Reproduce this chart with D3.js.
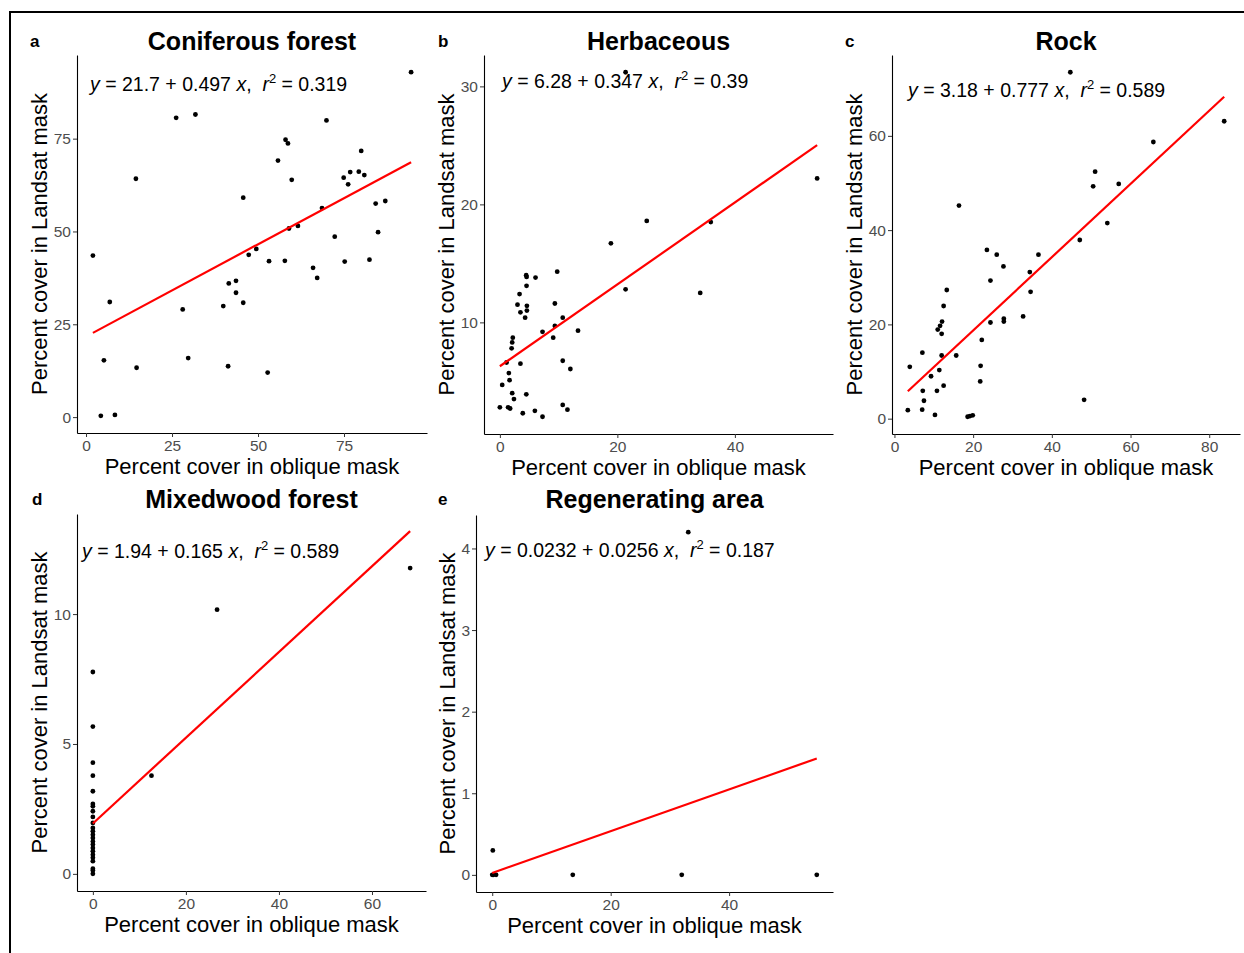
<html>
  <head>
    <meta charset="utf-8">
    <style>
body { margin: 0; background: #fff; }
svg { font-family: "Liberation Sans", Arial, sans-serif; }
.tick text { fill: #4d4d4d; font-size: 15.5px; }
.tick line { stroke: #333; }
.domain { stroke: #000; stroke-width: 1.1; }
.title { font-weight: bold; font-size: 25px; text-anchor: middle; }
.letter { font-weight: bold; font-size: 17px; }
.axtitle { font-size: 22px; text-anchor: middle; }
.eq { font-size: 19.5px; white-space: pre; }
    </style>
  </head>
  <body>
    <svg width="1244" height="953"></svg>
    <script src="https://d3js.org/d3.v7.min.js"></script>
    <script>

var titles = ["Coniferous forest", "Herbaceous", "Rock", "Mixedwood forest", "Regenerating area"];
var letters = ["a", "b", "c", "d", "e"];

// a: coniferous forest
var conifX = [94.5, 26.2, 31.8, 69.9, 58.0, 58.7, 80.0, 55.8, 14.5, 59.8, 74.9, 76.8, 79.3, 80.9, 76.2,
  45.7, 84.2, 87.0, 68.6, 59.0, 61.6, 84.9, 72.3, 2.0, 47.3, 49.5, 53.2, 57.8, 75.2, 82.4, 66.0, 67.2,
  41.5, 43.6, 43.6, 6.9, 45.7, 39.9, 28.1, 5.2, 29.7, 14.7, 41.3, 52.8, 4.3, 8.4];
var conifY = [92.9, 80.6, 81.5, 79.9, 74.7, 73.7, 71.7, 69.1, 64.2, 63.9, 64.5, 66.0, 66.1, 65.2, 62.7,
  59.1, 57.5, 58.2, 56.3, 50.8, 51.5, 49.8, 48.6, 43.5, 43.7, 45.3, 42.0, 42.1, 41.9, 42.4, 40.2, 37.5,
  36.0, 36.7, 33.5, 31.0, 30.8, 29.9, 29.0, 15.3, 15.9, 13.3, 13.7, 12.0, 0.35, 0.6];

// b: herbaceous
var herbX = [21.4, 54.0, 25.0, 35.9, 18.9, 21.4, 34.1, 9.76, 4.48, 4.55, 6.07, 4.54, 3.35, 3.0, 4.6,
  4.6, 3.5, 4.3, 9.36, 10.7, 9.36, 7.26, 13.3, 9.08, 2.2, 2.1, 2.0, 1.14, 3.5, 10.7, 12.0, 1.53, 1.65,
  0.4, 2.1, 2.4, 4.5, 0.0, 1.4, 1.75, 3.9, 5.96, 7.26, 10.7, 11.5];
var herbY = [31.2, 22.2, 18.6, 18.5, 16.7, 12.8, 12.5, 14.3, 14.0, 13.85, 13.8, 13.1, 12.4, 11.5, 11.4,
  11.0, 10.85, 10.4, 11.6, 10.4, 9.7, 9.2, 9.3, 8.7, 8.7, 8.3, 7.8, 6.6, 6.5, 6.75, 6.05, 5.7, 5.1,
  4.7, 4.0, 3.5, 3.9, 2.8, 2.8, 2.7, 2.3, 2.5, 2.0, 3.0, 2.6];

// c: rock
var rockX = [44.7, 83.8, 65.8, 51.0, 50.5, 57.0, 16.4, 54.1, 47.1, 23.5, 26.0, 36.6, 27.7, 34.4, 24.4,
  34.6, 13.3, 12.5, 12.1, 11.6, 11.0, 12.0, 24.4, 27.8, 27.8, 32.7, 22.2, 15.7, 12.0, 7.1, 3.9, 21.9,
  11.4, 9.3, 21.8, 12.5, 10.8, 7.2, 7.5, 48.2, 3.4, 7.05, 10.3, 18.6, 19.2, 19.9];
var rockY = [73.5, 63.1, 58.7, 52.4, 49.3, 49.8, 45.2, 41.5, 37.9, 35.8, 34.8, 34.8, 32.3, 31.1, 29.3,
  26.9, 27.3, 23.9, 20.6, 19.7, 18.9, 18.0, 20.4, 21.2, 20.6, 21.7, 16.7, 13.4, 13.4, 14.0, 11.0, 11.2,
  10.3, 9.0, 7.9, 7.0, 5.9, 5.9, 3.8, 4.0, 1.8, 1.9, 0.8, 0.4, 0.55, 0.7];

// d: mixedwood forest
var mixX = [68.2, 26.7, 12.6, 0, 0, 0, 0, 0, 0, 0, 0, 0, 0, 0, 0, 0, 0, 0, 0, 0, 0, 0, 0, 0, 0, 0, 0];
var mixY = [11.77, 10.17, 3.78, 7.77, 5.67, 4.28, 3.78, 3.18, 2.69, 2.6, 2.41, 2.19, 1.96, 1.77, 1.64,
  1.51, 1.38, 1.25, 1.13, 1.0, 0.87, 0.74, 0.62, 0.49, 0.2, 0.13, 0.0];

// e: regenerating area
var regenX = [33.1, 0.1, 0.0, 0.2, 0.65, 13.6, 32.0, 54.8];
var regenY = [4.2, 0.3, 0.0, 0.0, 0.0, 0.0, 0.0, 0.0];

var intercepts = [21.7, 6.28, 3.18, 1.94, 0.0232];
var slopes = [0.497, 0.347, 0.777, 0.165, 0.0256];
var r2s = ["0.319", "0.39", "0.589", "0.589", "0.187"];

var xTicks = [[0, 25, 50, 75], [0, 20, 40], [0, 20, 40, 60, 80], [0, 20, 40, 60], [0, 20, 40]];
var yTicks = [[0, 25, 50, 75], [10, 20, 30], [0, 20, 40, 60], [0, 5, 10], [0, 1, 2, 3, 4]];

var xs = [conifX, herbX, rockX, mixX, regenX];
var ys = [conifY, herbY, rockY, mixY, regenY];

// plot-area boxes and label placement
var layout = [
  {left: 77,  right: 427,  top: 55,  bottom: 433, titleY: 50,  letterX: 30,  eqDx: 13, eqDy: 36},
  {left: 484, right: 833,  top: 55,  bottom: 434, titleY: 50,  letterX: 438, eqDx: 18, eqDy: 33},
  {left: 892, right: 1240, top: 55,  bottom: 434, titleY: 50,  letterX: 845, eqDx: 16, eqDy: 42},
  {left: 77,  right: 426,  top: 514, bottom: 891, titleY: 508, letterX: 32,  eqDx: 5,  eqDy: 44},
  {left: 476, right: 833,  top: 515, bottom: 892, titleY: 508, letterX: 438, eqDx: 9,  eqDy: 42}
];

var svg = d3.select("svg");

// outer frame (top and left edges)
svg.append("path")
  .attr("d", "M10,953 V12 H1244")
  .attr("fill", "none")
  .attr("stroke", "#000")
  .attr("stroke-width", 2);

function expand(ext) {
  var pad = (ext[1] - ext[0]) * 0.05;
  return [ext[0] - pad, ext[1] + pad];
}

var fmt = d3.format("~g");

layout.forEach(function(L, i) {
  var px = xs[i], py = ys[i];
  var pts = px.map(function(v, k) { return {x: v, y: py[k]}; });
  var xExt = d3.extent(px);
  var fit = xExt.map(function(v) { return {x: v, y: intercepts[i] + slopes[i] * v}; });
  var yAll = py.concat(fit.map(function(d) { return d.y; }));

  var x = d3.scaleLinear().domain(expand(xExt)).range([L.left, L.right]);
  var y = d3.scaleLinear().domain(expand(d3.extent(yAll))).range([L.bottom, L.top]);

  var g = svg.append("g");

  g.append("g")
    .attr("transform", "translate(0," + L.bottom + ")")
    .call(d3.axisBottom(x).tickValues(xTicks[i]).tickFormat(fmt).tickSize(4).tickSizeOuter(0).tickPadding(3));

  var yAxis = g.append("g")
    .attr("transform", "translate(" + L.left + ",0)")
    .call(d3.axisLeft(y).tickValues(yTicks[i]).tickFormat(fmt).tickSize(4).tickSizeOuter(0).tickPadding(2));

  var yw = yAxis.node().getBBox().width;

  g.selectAll(".pt")
    .data(pts)
    .enter().append("circle")
    .attr("class", "pt")
    .attr("cx", function(d) { return x(d.x); })
    .attr("cy", function(d) { return y(d.y); })
    .attr("r", 2.4)
    .attr("fill", "#000");

  g.append("path")
    .datum(fit)
    .attr("fill", "none")
    .attr("stroke", "#ff0000")
    .attr("stroke-width", 2.2)
    .attr("d", d3.line().x(function(d) { return x(d.x); }).y(function(d) { return y(d.y); }));

  // equation label
  var eq = g.append("text")
    .attr("class", "eq")
    .attr("x", L.left + L.eqDx)
    .attr("y", L.top + L.eqDy);
  eq.append("tspan").style("font-style", "italic").text("y");
  eq.append("tspan").text(" = " + intercepts[i] + " + " + slopes[i] + " ");
  eq.append("tspan").style("font-style", "italic").text("x");
  eq.append("tspan").text(",  ");
  eq.append("tspan").style("font-style", "italic").text("r");
  eq.append("tspan").attr("dy", -8).style("font-size", "13px").text("2");
  eq.append("tspan").attr("dy", 8).text(" = " + r2s[i]);

  g.append("text")
    .attr("class", "title")
    .attr("x", (L.left + L.right) / 2)
    .attr("y", L.titleY)
    .text(titles[i]);

  g.append("text")
    .attr("class", "letter")
    .attr("x", L.letterX)
    .attr("y", L.titleY - 3)
    .text(letters[i]);

  g.append("text")
    .attr("class", "axtitle")
    .attr("x", (L.left + L.right) / 2)
    .attr("y", L.bottom + 41)
    .text("Percent cover in oblique mask");

  g.append("text")
    .attr("class", "axtitle")
    .attr("transform", "translate(" + (L.left - yw - 6) + "," + ((L.top + L.bottom) / 2) + ") rotate(-90)")
    .text("Percent cover in Landsat mask");
});

    </script>
  </body>
</html>
